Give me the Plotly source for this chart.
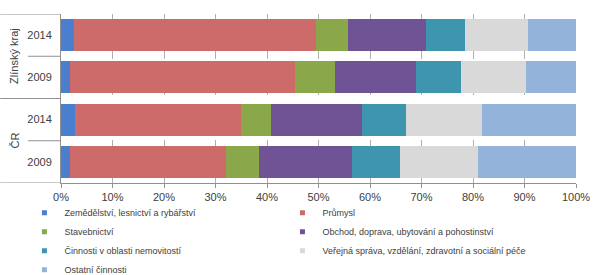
import plotly.graph_objects as go

# data (shares in %), top to bottom
groups = ["Zlínský kraj", "Zlínský kraj", "ČR", "ČR"]
years = ["2014", "2009", "2014", "2009"]
sectors = [
    "Zemědělství, lesnictví a rybářství",
    "Průmysl",
    "Stavebnictví",
    "Obchod, doprava, ubytování a pohostinství",
    "Činnosti v oblasti nemovitostí",
    "Veřejná správa, vzdělání, zdravotní a sociální péče",
    "Ostatní činnosti",
]
agri = [2.5, 1.8, 2.8, 1.8]
industry = [47.0, 43.6, 32.2, 30.2]
construction = [6.2, 7.8, 5.7, 6.5]
trade = [15.2, 15.7, 17.8, 18.1]
realestate = [7.5, 8.8, 8.4, 9.3]
public = [12.3, 12.5, 14.9, 15.1]
other = [9.3, 9.8, 18.2, 19.0]
values = [agri, industry, construction, trade, realestate, public, other]
colors = ["#4a7fcf", "#cc6b69", "#8aa84a", "#6f5395", "#3d96ae", "#d9d9d9", "#94b3da"]
xticks = [0, 10, 20, 30, 40, 50, 60, 70, 80, 90, 100]

ypos = list(range(len(years)))

fig = go.Figure()
for i, (name, vals, col) in enumerate(zip(sectors, values, colors)):
    fig.add_trace(go.Bar(x=vals, y=ypos, orientation="h", marker=dict(color=col, line=dict(width=0)),
                         name=name, showlegend=False))
    # small square legend markers, two legend columns
    fig.add_trace(go.Scatter(x=[None], y=[None], mode="markers", name=name,
                             legend="legend" if i % 2 == 0 else "legend2",
                             marker=dict(symbol="square", size=5, color=col)))

leg = dict(y=-0.09, xanchor="left", yanchor="top", itemwidth=30,
           font=dict(size=9, color="#404040"), tracegroupgap=0,
           traceorder="normal", bgcolor="rgba(0,0,0,0)")
fig.update_layout(
    barmode="stack",
    bargap=0.24,
    width=604, height=275,
    margin=dict(l=61, r=28, t=14, b=92, autoexpand=False),
    plot_bgcolor="white", paper_bgcolor="white",
    font=dict(family="Liberation Sans, Arial", size=11, color="#404040"),
    legend=dict(x=-0.071, **leg),
    legend2=dict(x=0.43, **leg),
)
fig.update_xaxes(range=[0, 100], tickvals=xticks, ticktext=[f"{t}%" for t in xticks],
                 showgrid=True, gridcolor="#b0b0b0", griddash="dash", gridwidth=1,
                 showline=True, linecolor="#909090", ticks="outside", ticklen=4, tickcolor="#909090",
                 zeroline=False, tickfont=dict(size=11))
fig.update_yaxes(range=[3.5, -0.5], tickvals=ypos, ticktext=years, showgrid=False,
                 showline=True, linecolor="#909090", ticks="", zeroline=False,
                 ticklabelstandoff=6, tickfont=dict(size=11))

# group separators and labels
for yb in [-0.5, 1.5, 3.5]:
    fig.add_shape(type="line", xref="paper", yref="y", x0=-0.118, x1=0, y0=yb, y1=yb,
                  line=dict(color="#909090", width=1))
for yb in [0.5, 2.5]:
    fig.add_shape(type="line", xref="paper", yref="y", x0=-0.064, x1=0, y0=yb, y1=yb,
                  line=dict(color="#909090", width=1))
for g, yc in [("Zlínský kraj", 0.5), ("ČR", 2.5)]:
    fig.add_annotation(text=g, xref="paper", yref="y", x=-0.09, y=yc, textangle=-90,
                       xanchor="center", yanchor="middle",
                       showarrow=False, font=dict(size=11, color="#404040"))

# page has a default 8px body margin; drop it so the figure sits at the window origin
fig.write_html("out.html", config={"displayModeBar": False},
               post_script="document.body.style.margin='0';")
